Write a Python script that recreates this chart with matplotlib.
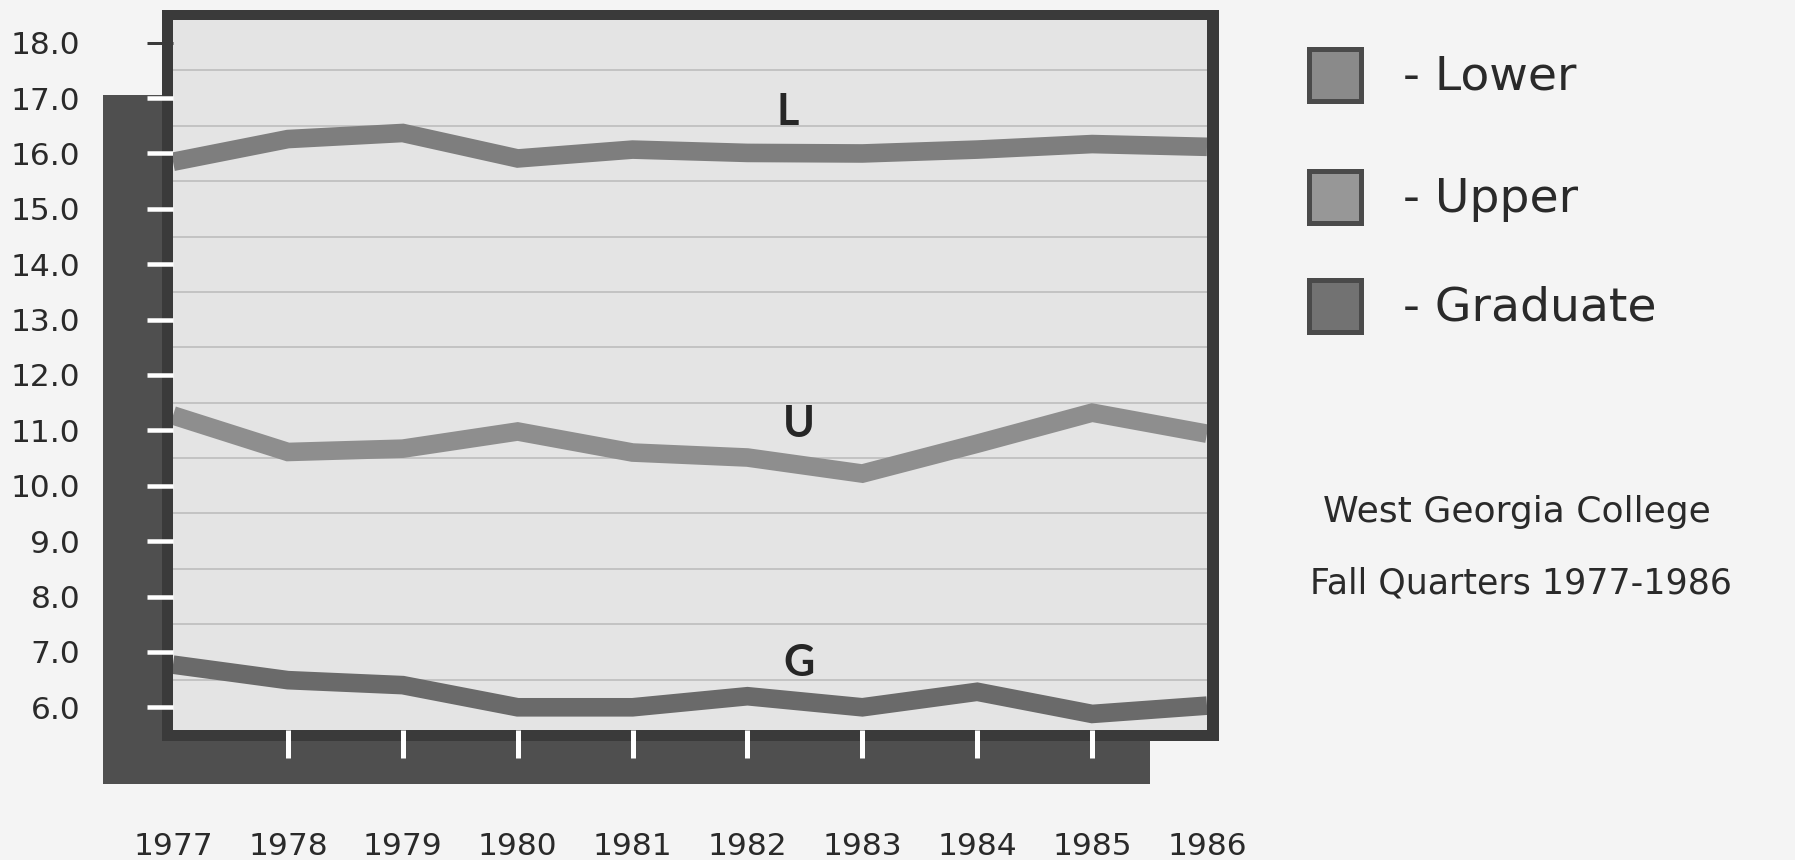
import matplotlib
matplotlib.use("Agg")
import matplotlib.pyplot as plt
from matplotlib.patches import Rectangle

# data
years = [1977, 1978, 1979, 1980, 1981, 1982, 1983, 1984, 1985, 1986]
lower = [15.85, 16.26, 16.37, 15.91, 16.07, 16.01, 16.00, 16.07, 16.17, 16.12]
upper = [11.27, 10.61, 10.67, 10.98, 10.60, 10.51, 10.22, 10.76, 11.32, 10.94]
graduate = [6.77, 6.49, 6.40, 6.00, 6.00, 6.20, 6.00, 6.28, 5.88, 6.03]

y_ticks = [6.0, 7.0, 8.0, 9.0, 10.0, 11.0, 12.0, 13.0, 14.0, 15.0, 16.0, 17.0, 18.0]
grid_levels = [6.5, 7.5, 8.5, 9.5, 10.5, 11.5, 12.5, 13.5, 14.5, 15.5, 16.5, 17.5]

series_names = ["Lower", "Upper", "Graduate"]
series_tags = ["L", "U", "G"]
series_colors = ["#7e7e7e", "#8e8e8e", "#6a6a6a"]
tag_pos = [(1982.35, 16.75), (1982.45, 11.12), (1982.45, 6.80)]

W, H = 1795, 860
PX = 0.72  # points per pixel at dpi 100
text_color = "#2a2a2a"

fig = plt.figure(figsize=(W / 100, H / 100), dpi=100)
fig.patch.set_facecolor("#f4f4f4")

# background layer in pixel coords for the shadow block, frame and legend
bg = fig.add_axes([0, 0, 1, 1])
bg.set_xlim(0, W)
bg.set_ylim(H, 0)
bg.axis("off")
bg.add_patch(Rectangle((103, 95), 1150 - 103, 784 - 95, color="#4f4f4f", lw=0))
bg.add_patch(Rectangle((162, 10), 1219 - 162, 741 - 10, color="#3a3a3a", lw=0))

# main plot
ax = fig.add_axes([173 / W, 1 - 730 / H, (1207 - 173) / W, (730 - 20) / H])
ax.set_facecolor("#e4e4e4")
ax.set_xlim(1977, 1986)
ax.set_ylim(5.59, 18.41)
for s in ax.spines.values():
    s.set_visible(False)

for g in grid_levels:
    ax.axhline(g, color="#b9b9b9", lw=1.1, zorder=1)

for vals, col in zip([lower, upper, graduate], series_colors):
    ax.plot(years, vals, color=col, lw=13.4, solid_joinstyle="miter",
            solid_capstyle="butt", zorder=3)

for tag, (tx, ty) in zip(series_tags, tag_pos):
    ax.text(tx, ty, tag, fontsize=31, fontweight="bold", family="Lato",
            color="#262626", ha="center", va="center")

ax.set_yticks(y_ticks)
ax.set_yticklabels([f"{v:.1f}" for v in y_ticks])
ax.tick_params(axis="y", direction="out", length=26 * PX, width=4.5 * PX,
               color="white", pad=48, labelsize=22.5, labelcolor=text_color)
top_tick = ax.yaxis.get_major_ticks()[-1].tick1line
top_tick.set_markeredgecolor("#3a3a3a")
top_tick.set_markeredgewidth(3 * PX)

ax.set_xticks(years)
ax.set_xticklabels([str(y) for y in years])
ax.tick_params(axis="x", direction="out", length=28 * PX, width=5 * PX,
               color="white", pad=53, labelsize=22.5, labelcolor=text_color)
xt = ax.xaxis.get_major_ticks()
xt[0].tick1line.set_visible(False)
xt[-1].tick1line.set_visible(False)

# legend
legend_y = [75, 197, 306]
fills = ["#8a8a8a", "#979797", "#727272"]
for name, yc, fc in zip(series_names, legend_y, fills):
    bg.add_patch(Rectangle((1309, yc - 26), 52, 52, facecolor=fc,
                           edgecolor="#4a4a4a", lw=5 * PX))
    bg.text(1403, yc + 2, "- " + name, fontsize=34, color=text_color,
            ha="left", va="center")

bg.text(1517, 512, "West Georgia College", fontsize=26, color=text_color,
        ha="center", va="center")
bg.text(1521, 583, "Fall Quarters 1977-1986", fontsize=25, color=text_color,
        ha="center", va="center")

fig.savefig("out.png", dpi=100, facecolor=fig.get_facecolor())
